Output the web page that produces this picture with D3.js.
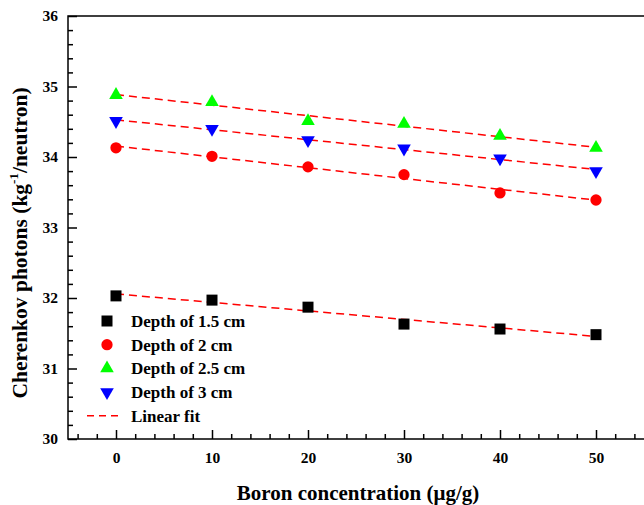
<!DOCTYPE html>
<html>
<head>
<meta charset="utf-8">
<script src="https://cdn.jsdelivr.net/npm/d3@7"></script>
<style>
  body { margin: 0; background: #fff; }
  svg { display: block; font-family: "Liberation Serif", "Times New Roman", serif; font-weight: bold; }
</style>
</head>
<body>
<svg id="chart" width="644" height="505"></svg>
<script>
// boron concentration (ug/g)
const boron = [0, 10, 20, 30, 40, 50]
// cherenkov photons per depth
const depth15 = [32.03, 31.97, 31.87, 31.63, 31.56, 31.48]
const depth2 = [34.13, 34.01, 33.86, 33.75, 33.49, 33.39]
const depth25 = [34.88, 34.78, 34.51, 34.47, 34.30, 34.13]
const depth3 = [34.51, 34.40, 34.24, 34.12, 33.98, 33.80]
const seriesNames = ["Depth of 1.5 cm", "Depth of 2 cm", "Depth of 2.5 cm", "Depth of 3 cm"]
const xTicks = [0, 10, 20, 30, 40, 50]
const yTicks = [30, 31, 32, 33, 34, 35, 36]

const series = [
  {name: seriesNames[0], values: depth15, color: "#000000", shape: "square"},
  {name: seriesNames[1], values: depth2, color: "#ff0000", shape: "circle"},
  {name: seriesNames[2], values: depth25, color: "#00ff00", shape: "up"},
  {name: seriesNames[3], values: depth3, color: "#0000ff", shape: "down"}
]

const svg = d3.select("#chart")
const margin = {left: 68, top: 16, bottom: 439, right: 644}

const x = d3.scaleLinear().domain([-5, 55]).range([margin.left, margin.right])
const y = d3.scaleLinear().domain([30, 36]).range([margin.bottom, margin.top])

// least squares fit for each depth
const fit = vals => {
  const mx = d3.mean(boron), my = d3.mean(vals)
  const sxy = d3.sum(boron, (b, i) => (b - mx) * (vals[i] - my))
  const sxx = d3.sum(boron, b => (b - mx) * (b - mx))
  const slope = sxy / sxx
  return b => my + slope * (b - mx)
}

// minor ticks
const xMinor = d3.range(-4, 55, 2).filter(v => v % 10 !== 0)
const yMinor = d3.range(30, 36.001, 0.2).filter(v => Math.abs(v - Math.round(v)) > 0.01)

const styleAxis = g => {
  g.select(".domain").remove()
  g.attr("font-family", null).attr("font-size", 15.5).attr("font-weight", "bold")
  g.selectAll("line").attr("stroke-width", 1.5)
}

svg.append("g")
  .attr("transform", `translate(0,${margin.bottom})`)
  .call(d3.axisBottom(x).tickValues(xMinor).tickSize(-5).tickFormat(""))
  .call(styleAxis)

svg.append("g")
  .attr("transform", `translate(${margin.left},0)`)
  .call(d3.axisLeft(y).tickValues(yMinor).tickSize(-5).tickFormat(""))
  .call(styleAxis)

var gX = svg.append("g")
  .attr("transform", `translate(0,${margin.bottom})`)
  .call(d3.axisBottom(x).tickValues(xTicks).tickSize(-9).tickPadding(13).tickFormat(d3.format("d")))
  .call(styleAxis)

var gY = svg.append("g")
  .attr("transform", `translate(${margin.left},0)`)
  .call(d3.axisLeft(y).tickValues(yTicks).tickSize(-9).tickPadding(10).tickFormat(d3.format("d")))
  .call(styleAxis)

// frame (right side is cropped off in the original)
svg.append("path")
  .attr("d", `M${margin.right + 2},${margin.top}H${margin.left}V${margin.bottom}H${margin.right + 2}`)
  .attr("fill", "none")
  .attr("stroke", "#000")
  .attr("stroke-width", 1.5)

const symbolFor = shape => {
  if (shape === "square") return d3.symbol(d3.symbolSquare, 121)()
  if (shape === "circle") return d3.symbol(d3.symbolCircle, 100)()
  return d3.symbol(d3.symbolTriangle, 80)()
}
const rot = shape => shape === "down" ? " rotate(180)" : ""

// fit lines
const line = d3.line().x(d => x(d[0])).y(d => y(d[1]))
series.forEach(s => {
  const f = fit(s.values)
  svg.append("path")
    .datum([[boron[0], f(boron[0])], [boron[boron.length - 1], f(boron[boron.length - 1])]])
    .attr("d", line)
    .attr("fill", "none")
    .attr("stroke", "#ff0000")
    .attr("stroke-width", 1.5)
    .attr("stroke-dasharray", "8,5")
})

// points
series.forEach(s => {
  svg.append("g").selectAll("path")
    .data(s.values)
    .enter()
    .append("path")
    .attr("d", symbolFor(s.shape))
    .attr("transform", (v, i) => `translate(${x(boron[i])},${y(v)})${rot(s.shape)}`)
    .attr("fill", s.color)
})

// legend
const legend = svg.append("g").attr("font-size", 17)
const legendY = i => 321 + i * 23.7
series.forEach((s, i) => {
  legend.append("path")
    .attr("d", symbolFor(s.shape))
    .attr("transform", `translate(107,${legendY(i)})${rot(s.shape)}`)
    .attr("fill", s.color)
  legend.append("text")
    .attr("x", 131).attr("y", legendY(i)).attr("dy", "0.35em")
    .text(s.name)
})
legend.append("line")
  .attr("x1", 87).attr("x2", 123)
  .attr("y1", legendY(4)).attr("y2", legendY(4))
  .attr("stroke", "#ff0000").attr("stroke-width", 1.5).attr("stroke-dasharray", "7,5")
legend.append("text")
  .attr("x", 131).attr("y", legendY(4)).attr("dy", "0.35em")
  .text("Linear fit")

// axis titles
svg.append("text")
  .attr("x", 358).attr("y", 500)
  .attr("text-anchor", "middle")
  .attr("font-size", 21)
  .text("Boron concentration (μg/g)")

const yTitle = svg.append("text")
  .attr("transform", "translate(27,243) rotate(-90)")
  .attr("text-anchor", "middle")
  .attr("font-size", 21.5)
yTitle.append("tspan").text("Cherenkov photons (kg")
yTitle.append("tspan").attr("font-size", 13).attr("dy", -9).text("-1")
yTitle.append("tspan").attr("dy", 9).text("/neutron)")
</script>
</body>
</html>
